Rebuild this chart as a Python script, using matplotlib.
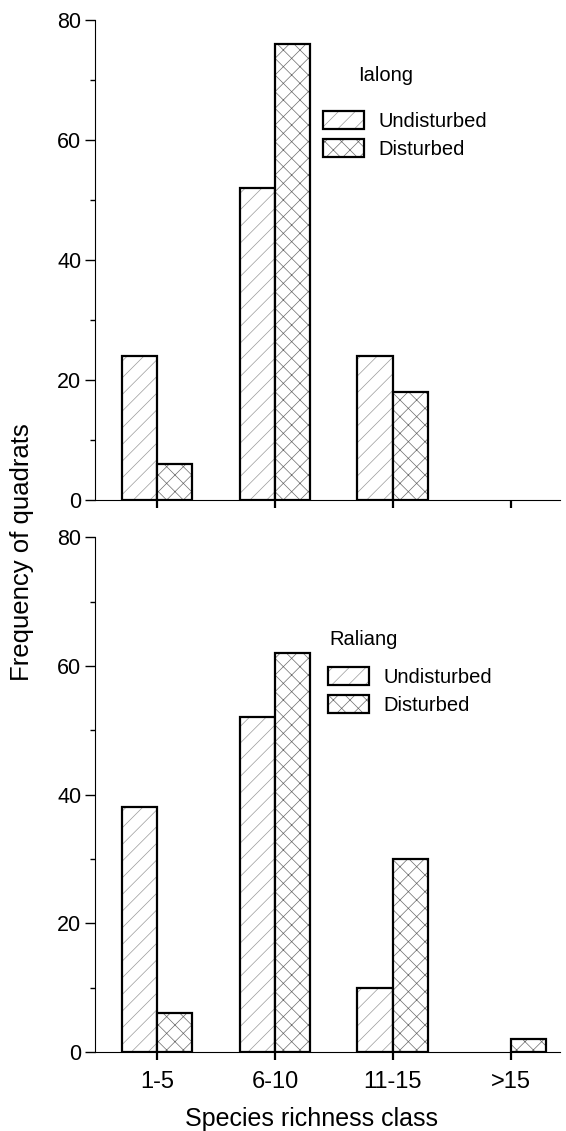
import matplotlib
matplotlib.use("Agg")
import matplotlib.pyplot as plt
import numpy as np

plt.rcParams["font.family"] = ["Liberation Sans", "DejaVu Sans"]
plt.rcParams["hatch.linewidth"] = 0.5

classes = ["1-5", "6-10", "11-15", ">15"]
ialong_undisturbed = [24, 52, 24, 0]
ialong_disturbed = [6, 76, 18, 0]
raliang_undisturbed = [38, 52, 10, 0]
raliang_disturbed = [6, 62, 30, 2]

x = np.arange(len(classes))
w = 0.3


def panel(ax, und, dist, site, leg_xy, site_xy):
    hu = ax.bar(x - w / 2, und, w, color="white", hatch="//",
                edgecolor="#9a9a9a", linewidth=0)
    bu = ax.bar(x - w / 2, und, w, fill=False, edgecolor="black",
                linewidth=1.6)
    hd = ax.bar(x + w / 2, dist, w, color="white", hatch="xx",
                edgecolor="#6a6a6a", linewidth=0)
    bd = ax.bar(x + w / 2, dist, w, fill=False, edgecolor="black",
                linewidth=1.6)
    # bars with zero height get no border
    for b, v in zip(list(bu) + list(bd), list(und) + list(dist)):
        if v == 0:
            b.set_visible(False)
    ax.set_xlim(-0.525, 3.42)
    ax.set_ylim(0, 80)
    ax.set_yticks([0, 20, 40, 60, 80])
    ax.set_yticks(np.arange(10, 80, 20), minor=True)
    ax.set_xticks(x)
    for s in ["top", "right"]:
        ax.spines[s].set_visible(False)
    ax.tick_params(axis="y", which="major", direction="out", length=7,
                   width=1, labelsize=15.5, pad=3)
    ax.tick_params(axis="x", which="major", direction="out", length=6,
                   width=1.6, labelsize=17, pad=8)
    ax.tick_params(axis="y", which="minor", direction="out", length=3.5,
                   width=1)
    ax.text(site_xy[0], site_xy[1], site, transform=ax.transAxes,
            fontsize=14.5, va="center", ha="left")
    ax.legend([(hu[0], bu[0]), (hd[0], bd[0])], ["Undisturbed", "Disturbed"],
              loc="upper left", bbox_to_anchor=leg_xy, frameon=False,
              fontsize=14.5, borderpad=0, borderaxespad=0, handlelength=2.05,
              handleheight=1.0, handletextpad=0.7, labelspacing=0.4)


fig = plt.figure(figsize=(5.66, 11.31), dpi=100)
ax1 = fig.add_axes([0.168, 0.558, 0.822, 0.424])
ax2 = fig.add_axes([0.168, 0.070, 0.822, 0.455])

panel(ax1, ialong_undisturbed, ialong_disturbed, "Ialong",
      (0.49, 0.81), (0.566, 0.885))
panel(ax2, raliang_undisturbed, raliang_disturbed, "Raliang",
      (0.50, 0.748), (0.503, 0.802))

ax1.set_xticklabels([])
ax2.set_xticklabels(classes)
ax2.set_xlabel("Species richness class", fontsize=18)
ax2.xaxis.set_label_coords(0.465, -0.108)
fig.text(0.039, 0.512, "Frequency of quadrats", rotation=90, fontsize=18.5,
         ha="center", va="center")

fig.savefig("out.png", dpi=100)
